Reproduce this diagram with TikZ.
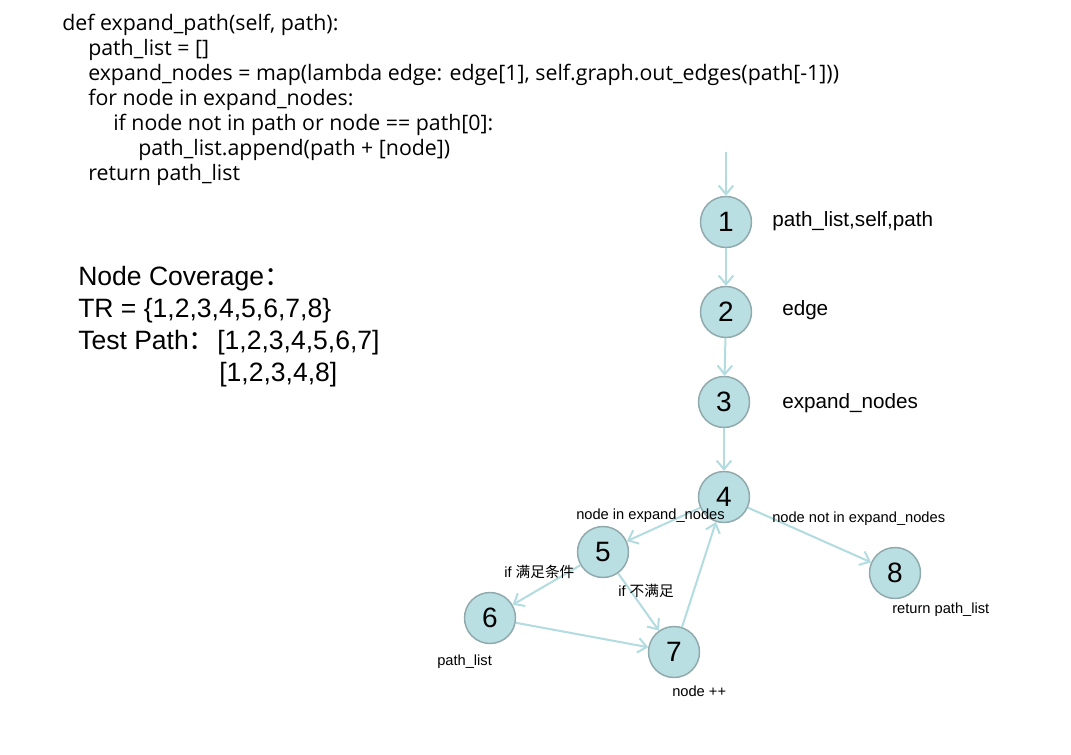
\documentclass[tikz,border=0pt]{standalone}
\usepackage{fontspec}
\setmainfont{Liberation Sans}
\newfontfamily\codefont{Open Sans}
\newfontfamily\cjk{Noto Sans CJK SC}
\usetikzlibrary{arrows.meta}
\definecolor{nodefill}{HTML}{B9DFE3}
\definecolor{nodeline}{HTML}{8FA9AC}
\definecolor{edgecol}{HTML}{B3DCE0}
\begin{document}
\begin{tikzpicture}[x=0.75pt,y=-0.75pt,
  vtx/.style={circle, draw=nodeline, fill=nodefill, line width=1.1pt, minimum size=38.25pt, inner sep=0pt, font=\fontsize{21}{25}\selectfont},
  conn/.style={draw=edgecol, line width=1.5pt, -{Straight Barb[length=6.5pt,width=11pt]}},
  codetxt/.style={anchor=base west, inner sep=0pt, font=\codefont\fontsize{16}{19}\selectfont},
  bigtxt/.style={anchor=base west, inner sep=0pt, font=\fontsize{19.9}{23}\selectfont},
  lbl/.style={anchor=base west, inner sep=0pt, font=\fontsize{15.5}{18}\selectfont},
  small/.style={anchor=base west, inner sep=0pt, font=\fontsize{11}{13}\selectfont}]
\fill[white] (0,0) rectangle (1071,754);
\useasboundingbox (0,0) rectangle (1071,754);
% code
\node[codetxt] (c1) at (62,30) {def expand\_path(self, path):};
\node[codetxt] (c2) at (88,55) {path\_list = []};
\node[codetxt] (c3) at (88,80) {expand\_nodes = map(lambda edge: edge[1], self.graph.out\_edges(path[-1]))};
\node[codetxt] (c4) at (88,105) {for node in expand\_nodes:};
\node[codetxt] (c5) at (113,130) {if node not in path or node == path[0]:};
\node[codetxt] (c6) at (138,155) {path\_list.append(path + [node])};
\node[codetxt] (c7) at (88,180) {return path\_list};
% coverage text
\node[bigtxt] (t1) at (78,285) {Node Coverage{\cjk ：}};
\node[bigtxt] (t2) at (78,317) {TR = \{1,2,3,4,5,6,7,8\}};
\node[bigtxt] (t3) at (78,349) {Test Path{\cjk ：}};
\node[bigtxt] (t3b) at (217,349) {[1,2,3,4,5,6,7]};
\node[bigtxt] (t4) at (219,381) {[1,2,3,4,8]};
% graph nodes
\node[vtx] (n1) at (726,222) {1};
\node[vtx] (n2) at (726,312) {2};
\node[vtx] (n3) at (724,402) {3};
\node[vtx] (n4) at (724,497) {4};
\node[vtx] (n5) at (603,552) {5};
\node[vtx] (n6) at (490,618) {6};
\node[vtx] (n7) at (674,652) {7};
\node[vtx] (n8) at (895,573) {8};
\coordinate (start) at (726,152);
% edges
\draw[conn] (start) -- (n1);
\draw[conn] (n1) -- (n2);
\draw[conn] (n2) -- (n3);
\draw[conn] (n3) -- (n4);
\draw[conn] (n4) -- (n5);
\draw[conn] (n4) -- (n8);
\draw[conn] (n5) -- (n6);
\draw[conn] (n5) -- (n7);
\draw[conn] (n6) -- (n7);
\draw[conn] (n7) -- (n4);
% labels
\node[lbl] (l1) at (772,226) {path\_list,self,path};
\node[lbl] (l2) at (782,315) {edge};
\node[lbl] (l3) at (782,408) {expand\_nodes};
\node[small] (s1) at (576,519) {node in expand\_nodes};
\node[small] (s2) at (772,522) {node not in expand\_nodes};
\node[small] (s3) at (892,613) {return path\_list};
\node[small] (s4) at (504,577) {if {\cjk 满足条件}};
\node[small] (s5) at (618,596) {if {\cjk 不满足}};
\node[small] (s6) at (437,665) {path\_list};
\node[small] (s7) at (672,696) {node ++};
\end{tikzpicture}
\end{document}
